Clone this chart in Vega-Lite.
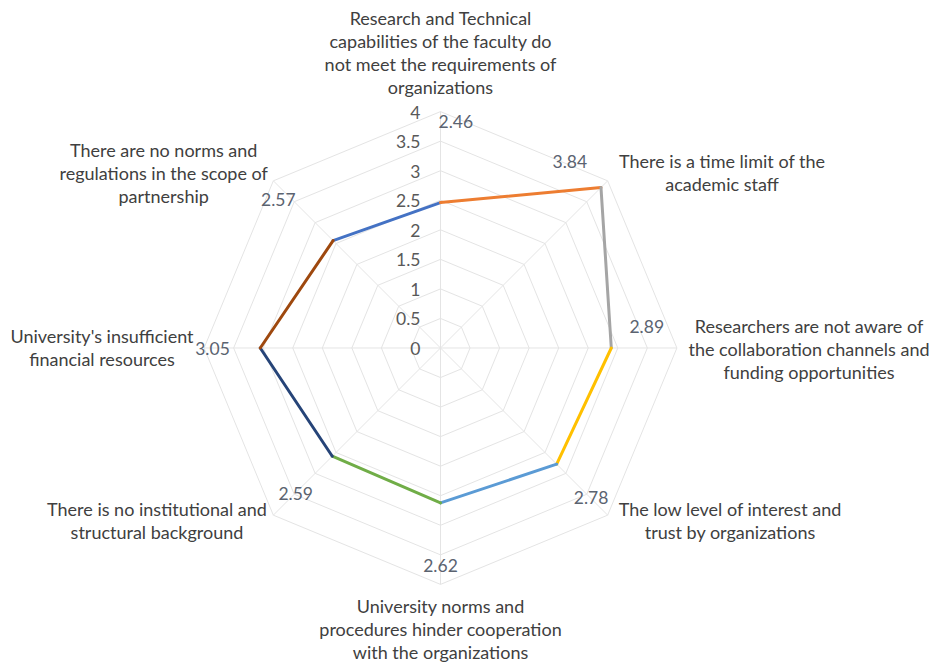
{
  "$schema": "https://vega.github.io/schema/vega-lite/v6.json",
  "width": 930,
  "height": 665,
  "padding": 0,
  "autosize": {"type": "none"},
  "background": "white",
  "config": {"view": {"stroke": null}, "text": {"font": "Lato"}},
  "datasets": {
    "points": [
      {"idx": 0, "value": 2.46, "category": "Research and Technical\ncapabilities of the faculty do\nnot meet the requirements of\norganizations"},
      {"idx": 1, "value": 3.84, "category": "There is a time limit of the\nacademic staff"},
      {"idx": 2, "value": 2.89, "category": "Researchers are not aware of\nthe collaboration channels and\nfunding opportunities"},
      {"idx": 3, "value": 2.78, "category": "The low level of interest and\ntrust by organizations"},
      {"idx": 4, "value": 2.62, "category": "University norms and\nprocedures hinder cooperation\nwith the organizations"},
      {"idx": 5, "value": 2.59, "category": "There is no institutional and\nstructural background"},
      {"idx": 6, "value": 3.05, "category": "University's insufficient\nfinancial resources"},
      {"idx": 7, "value": 2.57, "category": "There are no norms and\nregulations in the scope of\npartnership"}
    ],
    "ticks": [
      {"tick": 0}, {"tick": 0.5}, {"tick": 1}, {"tick": 1.5}, {"tick": 2},
      {"tick": 2.5}, {"tick": 3}, {"tick": 3.5}, {"tick": 4}
    ],
    "rings": [
      {"level": 0.5, "side": [0, 1, 2, 3, 4, 5, 6, 7]},
      {"level": 1, "side": [0, 1, 2, 3, 4, 5, 6, 7]},
      {"level": 1.5, "side": [0, 1, 2, 3, 4, 5, 6, 7]},
      {"level": 2, "side": [0, 1, 2, 3, 4, 5, 6, 7]},
      {"level": 2.5, "side": [0, 1, 2, 3, 4, 5, 6, 7]},
      {"level": 3, "side": [0, 1, 2, 3, 4, 5, 6, 7]},
      {"level": 3.5, "side": [0, 1, 2, 3, 4, 5, 6, 7]},
      {"level": 4, "side": [0, 1, 2, 3, 4, 5, 6, 7]}
    ]
  },
  "layer": [
    {
      "data": {"name": "rings"},
      "transform": [
        {"flatten": ["side"]},
        {"calculate": "datum.level * sin(datum.side * PI / 4)", "as": "px"},
        {"calculate": "datum.level * cos(datum.side * PI / 4)", "as": "py"},
        {"calculate": "datum.level * sin((datum.side + 1) * PI / 4)", "as": "px2"},
        {"calculate": "datum.level * cos((datum.side + 1) * PI / 4)", "as": "py2"}
      ],
      "mark": {"type": "rule", "color": "#E4E4E4", "strokeWidth": 1},
      "encoding": {
        "x": {"field": "px", "type": "quantitative", "scale": {"domain": [-7.4535, 8.2826], "nice": false, "zero": false}, "axis": null},
        "y": {"field": "py", "type": "quantitative", "scale": {"domain": [-5.3638, 5.8883], "nice": false, "zero": false}, "axis": null},
        "x2": {"field": "px2"},
        "y2": {"field": "py2"}
      }
    },
    {
      "data": {"name": "points"},
      "transform": [
        {"calculate": "0", "as": "px"},
        {"calculate": "0", "as": "py"},
        {"calculate": "4 * sin(datum.idx * PI / 4)", "as": "px2"},
        {"calculate": "4 * cos(datum.idx * PI / 4)", "as": "py2"}
      ],
      "mark": {"type": "rule", "color": "#E4E4E4", "strokeWidth": 1},
      "encoding": {
        "x": {"field": "px", "type": "quantitative", "axis": null},
        "y": {"field": "py", "type": "quantitative", "axis": null},
        "x2": {"field": "px2"},
        "y2": {"field": "py2"}
      }
    },
    {
      "data": {"name": "points"},
      "transform": [
        {"calculate": "(datum.idx + 7) % 8", "as": "prev"},
        {"lookup": "prev", "from": {"data": {"name": "points"}, "key": "idx", "fields": ["value"]}, "as": ["prevValue"]},
        {"calculate": "datum.value * sin(datum.idx * PI / 4)", "as": "px"},
        {"calculate": "datum.value * cos(datum.idx * PI / 4)", "as": "py"},
        {"calculate": "datum.prevValue * sin(datum.prev * PI / 4)", "as": "px2"},
        {"calculate": "datum.prevValue * cos(datum.prev * PI / 4)", "as": "py2"}
      ],
      "mark": {"type": "rule", "strokeWidth": 3, "strokeCap": "round"},
      "encoding": {
        "x": {"field": "px", "type": "quantitative", "axis": null},
        "y": {"field": "py", "type": "quantitative", "axis": null},
        "x2": {"field": "px2"},
        "y2": {"field": "py2"},
        "color": {
          "field": "idx", "type": "nominal", "legend": null,
          "scale": {"domain": [0, 1, 2, 3, 4, 5, 6, 7], "range": ["#4472C4", "#ED7D31", "#A5A5A5", "#FFC000", "#5B9BD5", "#70AD47", "#264478", "#9E480E"]}
        }
      }
    },
    {
      "data": {"name": "ticks"},
      "transform": [
        {"calculate": "0", "as": "px"},
        {"calculate": "datum.tick", "as": "py"}
      ],
      "mark": {"type": "text", "align": "right", "baseline": "middle", "dx": -20, "dy": 2, "fontSize": 17.5, "color": "#595959"},
      "encoding": {
        "x": {"field": "px", "type": "quantitative", "axis": null},
        "y": {"field": "py", "type": "quantitative", "axis": null},
        "text": {"field": "tick", "type": "quantitative"}
      }
    },
    {
      "data": {"name": "points"},
      "transform": [
        {"calculate": "[3.82, 3.816, 3.506, 3.611, 3.70, 3.49, 3.858, 3.704][datum.idx]", "as": "labelRadius"},
        {"calculate": "[3.9, 35.0, 84.5, 135.1, 180, 224.6, 269.5, 312.2][datum.idx] * PI / 180", "as": "labelAngle"},
        {"calculate": "datum.labelRadius * sin(datum.labelAngle)", "as": "px"},
        {"calculate": "datum.labelRadius * cos(datum.labelAngle)", "as": "py"}
      ],
      "mark": {"type": "text", "align": "center", "baseline": "middle", "fontSize": 17.5, "color": "#5B6370"},
      "encoding": {
        "x": {"field": "px", "type": "quantitative", "axis": null},
        "y": {"field": "py", "type": "quantitative", "axis": null},
        "text": {"field": "value", "type": "quantitative", "format": ".2f"}
      }
    },
    {
      "data": {"name": "points"},
      "transform": [
        {"calculate": "[0, 4.763, 6.235, 4.898, 0, -4.797, -5.728, -4.684][datum.idx]", "as": "px"},
        {"calculate": "[5.55, 3.125, 0.333, -2.758, -4.404, -2.758, 0.164, 3.322][datum.idx]", "as": "py"}
      ],
      "mark": {"type": "text", "align": "center", "baseline": "middle", "fontSize": 18, "lineHeight": 23, "lineBreak": "\n", "color": "#404040"},
      "encoding": {
        "x": {"field": "px", "type": "quantitative", "axis": null},
        "y": {"field": "py", "type": "quantitative", "axis": null},
        "text": {"field": "category", "type": "nominal"}
      }
    }
  ]
}
